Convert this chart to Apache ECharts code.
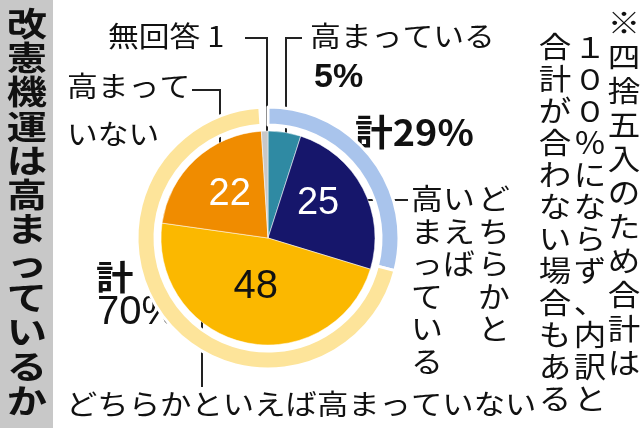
<!DOCTYPE html>
<html><head><meta charset="utf-8">
<script src="https://cdn.jsdelivr.net/npm/echarts@6/dist/echarts.min.js"></script>
<style>html,body{margin:0;background:#fff}#c{width:640px;height:431px}</style>
</head><body><div id="c"></div>
<script>
const categories = ['高まっている','どちらかといえば高まっている','どちらかといえば高まっていない','高まっていない','無回答'];
const values = [5, 25, 48, 22, 1];
const ringNames = ['計29%','計70%',''];
const ringValues = [29, 70, 1];
const title = '改憲機運は高まっているか';
const noteCols = ['※四捨五入のため合計は','１００％にならず、内訳と','合計が合わない場合もある'];

const F = '"Noto Sans CJK JP", sans-serif';
const vert = s => s.split('').join('\n');
const innerColors = ['#2f8aa3','#16166b','#fbb800','#f08c00','#c8c8c8'];
const ringColors = ['#a9c4ec','#fde49a','rgba(0,0,0,0)'];
const chart = echarts.init(document.getElementById('c'));
const txt = (x,y,s,size,opt={}) => ({type:'text',x,y,scaleX:opt.sx||1,style:Object.assign({text:s,font:`${opt.bold?'bold ':''}${size}px ${opt.fam||F}`,fill:'#111',lineHeight:opt.lh||size*1.15,textAlign:opt.align||'left',textVerticalAlign:'top'},opt.style||{})});
const line = pts => ({type:'polyline',shape:{points:pts},style:{stroke:'#222',lineWidth:2,fill:null}});
chart.setOption({
  animation:false,
  series:[
    {type:'pie',center:[268,238],radius:[113,131],startAngle:90,clockwise:true,silent:true,
     label:{show:false},labelLine:{show:false},
     data:ringValues.map((v,i)=>({name:ringNames[i]||'x',value:v,itemStyle:{color:ringColors[i],borderColor:'#fff',borderWidth:i==2?0:3}}))},
    {type:'pie',center:[268,238],radius:[0,107],startAngle:90,clockwise:true,silent:true,
     itemStyle:{borderColor:'#fff',borderWidth:0.5},
     label:{show:true,position:'inside',fontFamily:'Liberation Sans, Arial',fontSize:38,
       formatter:p=>p.value>=20?String(p.value):'',
       color:'#fff'},
     labelLine:{show:false},
     data:values.map((v,i)=>({name:categories[i],value:v,itemStyle:{color:innerColors[i]},
       label:i==2?{color:'#111',fontSize:40,offset:[0,-6]}:(i==1?{offset:[0,-8]}:(i==3?{offset:[0,-2]}:{}))}))}
  ],
  graphic:[
    {type:'rect',shape:{x:0,y:0,width:53,height:428},style:{fill:'#c8c8c8'}},
    txt(27,6,vert(title),33,{bold:true,align:'center',lh:34.3,sx:1.22}),
    txt(108,20,'無回答 1',28,{sx:1.1}),
    line([[245,38],[267,38],[267,133]]),
    txt(310,20,'高まっている',28,{sx:1.1}),
    txt(314,58,'5%',34,{bold:true,fam:'Liberation Sans, Arial'}),
    line([[302,38],[286,38],[286,143]]),
    txt(67,62,'高まって\nいない',28,{lh:48,sx:1.1}),
    line([[192,90],[220,90],[220,160]]),
    txt(355,112,'計29%',36,{bold:true,sx:1.05}),
    line([[361,200],[408,200]]),
    txt(494,183,vert('どちらかと'),29,{align:'center',lh:32.5,sx:1.1}),
    txt(459,183,vert('いえば'),29,{align:'center',lh:32.5,sx:1.1}),
    txt(427,183,vert('高まっている'),29,{align:'center',lh:32.5,sx:1.1}),
    txt(96,258,'計',34,{bold:true,sx:1.1}),
    txt(97,290,'70%',40,{fam:'Liberation Sans, Arial'}),
    line([[202,310],[202,387]]),
    txt(66,388,'どちらかといえば高まっていない',28,{sx:1.12}),
    txt(624,6,vert(noteCols[0]),29,{align:'center',lh:34,sx:1.12}),
    txt(590,31,vert(noteCols[1]),29,{align:'center',lh:32,sx:1.12}),
    txt(555,31,vert(noteCols[2]),29,{align:'center',lh:32,sx:1.12})
  ]
});
</script></body></html>
